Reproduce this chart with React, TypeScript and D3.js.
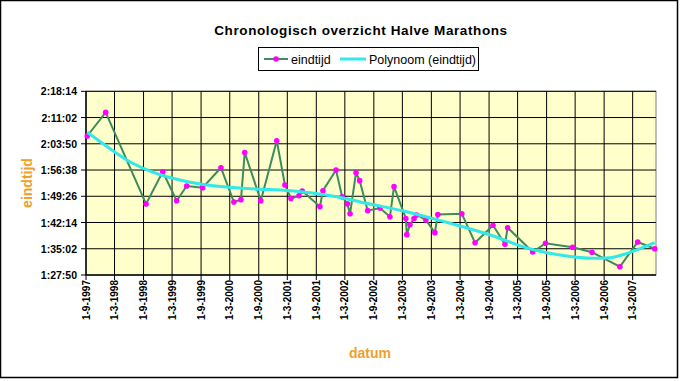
import React from "react";
import * as d3 from "d3";

const dates = [
  "9-9-1997", "4-1-1998", "17-9-1998", "1-1-1999", "30-3-1999", "2-6-1999", "11-9-1999",
  "5-1-2000", "27-3-2000", "11-5-2000", "4-6-2000", "14-9-2000", "24-12-2000",
  "14-2-2001", "24-3-2001", "14-5-2001", "4-6-2001", "24-9-2001", "13-10-2001",
  "4-1-2002", "12-2-2002", "17-3-2002", "3-4-2002", "11-5-2002", "3-6-2002", "24-7-2002",
  "10-10-2002", "12-12-2002", "7-1-2003", "23-3-2003", "29-3-2003", "18-4-2003",
  "14-5-2003", "31-5-2003", "28-7-2003", "23-9-2003", "12-10-2003", "12-3-2004",
  "4-6-2004", "26-9-2004", "11-12-2004", "28-12-2004", "5-6-2005", "25-8-2005",
  "13-2-2006", "16-6-2006", "10-12-2006", "2-4-2007", "19-7-2007",
];
const times = [
  "2:05:58", "2:12:28", "1:47:19", "1:56:09", "1:48:12", "1:52:15", "1:51:46",
  "1:57:16", "1:47:52", "1:48:30", "2:01:27", "1:48:13", "2:04:41",
  "1:52:32", "1:48:49", "1:49:34", "1:50:53", "1:46:35", "1:50:58",
  "1:56:39", "1:49:19", "1:47:24", "1:44:38", "1:55:53", "1:53:43", "1:45:29",
  "1:46:13", "1:43:48", "1:52:04", "1:43:20", "1:38:54", "1:41:37",
  "1:43:20", "1:44:18", "1:42:56", "1:39:27", "1:44:26", "1:44:39",
  "1:36:42", "1:41:28", "1:36:16", "1:40:49", "1:34:09", "1:36:32",
  "1:35:26", "1:34:04", "1:30:07", "1:36:53", "1:35:03",
];

const trendDates = [
  "9-9-1997", "21-2-1998", "17-5-1998", "31-8-1998", "30-3-1999", "25-8-1999",
  "2-3-2000", "9-9-2000", "14-1-2001", "10-6-2001", "8-1-2002", "7-8-2002",
  "7-3-2003", "22-7-2003", "29-2-2004", "19-9-2004", "29-4-2005", "25-11-2005",
  "22-6-2006", "8-10-2006", "24-1-2007", "19-7-2007",
];
const trendTimes = [
  "2:06:59", "2:01:51", "1:59:23", "1:57:07", "1:54:06", "1:52:48",
  "1:51:54", "1:51:21", "1:51:09", "1:50:36", "1:49:19", "1:47:19",
  "1:45:24", "1:43:53", "1:41:17", "1:38:40", "1:35:15", "1:33:20",
  "1:32:25", "1:32:35", "1:33:47", "1:36:42",
];

const xTickLabels = [
  "1-9-1997", "1-3-1998", "1-9-1998", "1-3-1999", "1-9-1999", "1-3-2000", "1-9-2000",
  "1-3-2001", "1-9-2001", "1-3-2002", "1-9-2002", "1-3-2003", "1-9-2003", "1-3-2004",
  "1-9-2004", "1-3-2005", "1-9-2005", "1-3-2006", "1-9-2006", "1-3-2007",
];
const yTickLabels = [
  "1:27:50", "1:35:02", "1:42:14", "1:49:26", "1:56:38", "2:03:50", "2:11:02", "2:18:14",
];
const xDomain = ["1-9-1997", "27-7-2007"];

const title = "Chronologisch overzicht Halve Marathons";
const seriesName = "eindtijd";
const trendName = "Polynoom (eindtijd)";
const xTitle = "datum";
const yTitle = "eindtijd";

const parseDate = d3.timeParse("%d-%m-%Y");
const toSec = (t: string) => {
  const [h, m, s] = t.split(":").map(Number);
  return h * 3600 + m * 60 + s;
};

const FONT = "'Liberation Sans', Arial, sans-serif";
const ORANGE = "#F0A02A";
const GREEN = "#3D8B5E";
const MAGENTA = "#FF00FF";
const CYAN = "#33E8E8";

export default function App() {
  const L = 86, R = 656, T = 91.3, B = 275;
  const x = d3.scaleTime()
    .domain([parseDate(xDomain[0])!, parseDate(xDomain[1])!])
    .range([L, R]);
  const y = d3.scaleLinear()
    .domain([toSec(yTickLabels[0]), toSec(yTickLabels[yTickLabels.length - 1])])
    .range([B, T]);

  const data = dates.map((d, i) => ({ d: parseDate(d)!, v: toSec(times[i]) }));
  const trend = trendDates.map((d, i) => ({ d: parseDate(d)!, v: toSec(trendTimes[i]) }));

  const line = d3.line<{ d: Date; v: number }>().x((p) => x(p.d)).y((p) => y(p.v));
  const trendLine = d3.line<{ d: Date; v: number }>()
    .x((p) => x(p.d)).y((p) => y(p.v)).curve(d3.curveMonotoneX);

  return (
    <svg width={680} height={381} style={{ position: "absolute", left: 0, top: 0, background: "#fff" }}
      fontFamily={FONT}>
      <rect x={0.5} y={0.5} width={677} height={377} fill="#fff" stroke="#000" strokeWidth={1.5} />
      <text x={361} y={35} textAnchor="middle" fontSize={13.5} fontWeight="bold" letterSpacing={0.6}>{title}</text>

      {/* legend */}
      <rect x={258.5} y={47.5} width={220} height={23} fill="#fff" stroke="#000" strokeWidth={1} />
      <line x1={264} x2={288} y1={59} y2={59} stroke={GREEN} strokeWidth={2} />
      <circle cx={276} cy={59} r={2.8} fill={MAGENTA} />
      <text x={291} y={63.5} fontSize={12.5}>{seriesName}</text>
      <line x1={340} x2={366} y1={59} y2={59} stroke={CYAN} strokeWidth={3} />
      <text x={369} y={63.5} fontSize={12.5}>{trendName}</text>

      {/* plot area */}
      <rect x={L} y={T} width={R - L} height={B - T} fill="#FFFFCC" stroke="#808080" strokeWidth={1} />
      {yTickLabels.map((t) => (
        <g key={t}>
          <line x1={L - 5} x2={R} y1={y(toSec(t))} y2={y(toSec(t))} stroke="#000" strokeWidth={1} />
          <text x={77} y={y(toSec(t)) + 4} textAnchor="end" fontSize={10.5} fontWeight="bold">{t}</text>
        </g>
      ))}
      {xTickLabels.map((t) => {
        const xx = x(parseDate(t)!);
        return (
          <g key={t}>
            <line x1={xx} x2={xx} y1={T} y2={B + 5} stroke="#000" strokeWidth={1} />
            <text transform={`translate(${xx + 3.5},${280}) rotate(-90)`} textAnchor="end"
              fontSize={10} fontWeight="bold">{t}</text>
          </g>
        );
      })}
      <line x1={L} x2={L} y1={T} y2={B} stroke="#000" strokeWidth={1} />
      <line x1={L} x2={R} y1={B} y2={B} stroke="#000" strokeWidth={1} />

      <path d={line(data)!} fill="none" stroke={GREEN} strokeWidth={2} />
      {data.map((p, i) => (
        <circle key={i} cx={x(p.d)} cy={y(p.v)} r={2.8} fill={MAGENTA} />
      ))}
      <path d={trendLine(trend)!} fill="none" stroke={CYAN} strokeWidth={3} />

      <text transform={`translate(${32},${183}) rotate(-90)`} textAnchor="middle" fontSize={14}
        fontWeight="bold" fill={ORANGE}>{yTitle}</text>
      <text x={370} y={358} textAnchor="middle" fontSize={14} fontWeight="bold" fill={ORANGE}>{xTitle}</text>
    </svg>
  );
}
